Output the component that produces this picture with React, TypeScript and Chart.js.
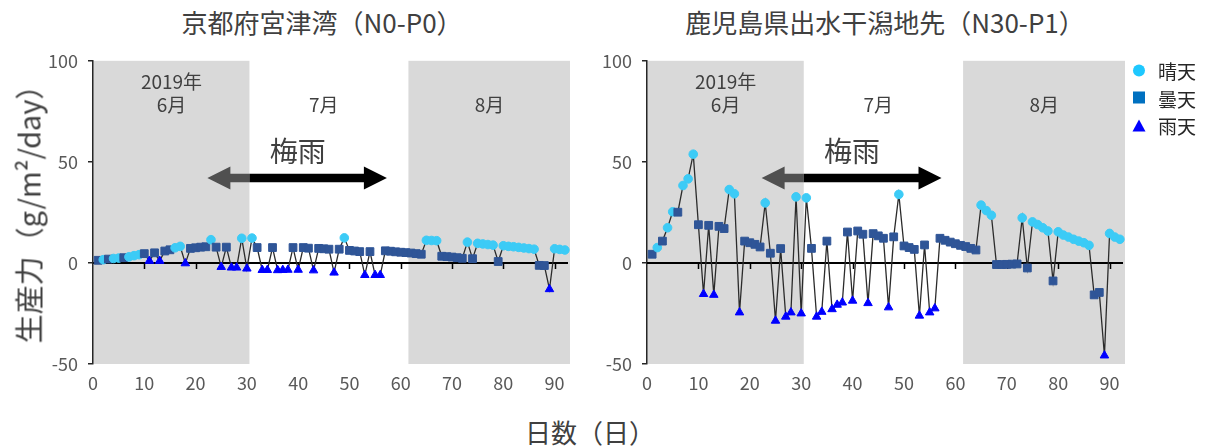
import React, { useEffect, useRef } from 'react';
import { Chart, registerables } from 'chart.js';

Chart.register(...registerables);

const FONT = '"Noto Sans CJK JP", "Noto Sans", sans-serif';
const TEXT = '#404040';
const TICK = '#595959';

// Survey day (1 = June 1, 2019)
const days = [
  1, 2, 3, 4, 5, 6, 7, 8, 9, 10, 11, 12, 13, 14, 15, 16, 17, 18, 19, 20,
  21, 22, 23, 24, 25, 26, 27, 28, 29, 30, 31, 32, 33, 34, 35, 36, 37, 38, 39, 40,
  41, 42, 43, 44, 45, 46, 47, 48, 49, 50, 51, 52, 53, 54, 55, 56, 57, 58, 59, 60,
  61, 62, 63, 64, 65, 66, 67, 68, 69, 70, 71, 72, 73, 74, 75, 76, 77, 78, 79, 80,
  81, 82, 83, 84, 85, 86, 87, 88, 89, 90, 91, 92,
];

// Weather of each day: 晴 = sunny, 曇 = cloudy, 雨 = rainy
const weather = [
  '曇', '晴', '曇', '晴', '晴', '曇', '晴', '晴', '晴', '曇',
  '雨', '曇', '雨', '曇', '曇', '晴', '晴', '雨', '曇', '曇',
  '曇', '曇', '晴', '曇', '雨', '曇', '雨', '雨', '晴', '雨',
  '晴', '曇', '雨', '雨', '曇', '雨', '雨', '雨', '曇', '雨',
  '曇', '曇', '雨', '曇', '曇', '曇', '雨', '曇', '晴', '曇',
  '曇', '曇', '雨', '曇', '雨', '雨', '曇', '曇', '曇', '曇',
  '曇', '曇', '曇', '曇', '晴', '晴', '晴', '曇', '曇', '曇',
  '曇', '曇', '晴', '曇', '晴', '晴', '晴', '晴', '曇', '晴',
  '晴', '晴', '晴', '晴', '晴', '晴', '曇', '曇', '雨', '晴',
  '晴', '晴',
];

// Daily production (g/m²/day), 京都府宮津湾 (N0-P0)
const miyazuProduction = [
  1.3, 1.6, 1.9, 2.2, 2.4, 2.6, 3.0, 3.6, 4.1, 4.6,
  1.0, 5.0, 1.0, 5.9, 6.5, 7.5, 8.2, -0.2, 7.2, 7.5,
  7.8, 8.0, 11.5, 7.8, -2.0, 7.8, -2.3, -2.3, 12.2, -2.8,
  12.3, 7.6, -3.5, -3.5, 7.6, -3.6, -3.5, -3.4, 7.6, -3.4,
  7.6, 7.3, -3.7, 7.2, 7.0, 6.8, -4.8, 6.8, 12.4, 6.2,
  5.9, 5.6, -6.0, 5.6, -6.0, -6.0, 6.0, 5.8, 5.5, 5.3,
  5.1, 4.9, 4.6, 4.3, 11.2, 11.1, 11.0, 3.3, 3.1, 2.9,
  2.6, 2.3, 10.3, 2.1, 9.7, 9.4, 9.1, 8.8, 0.7, 8.5,
  8.2, 8.0, 7.7, 7.4, 7.1, 6.8, -1.2, -1.3, -13.0, 7.0,
  6.7, 6.4,
];

// Daily production (g/m²/day), 鹿児島県出水干潟地先 (N30-P1)
const izumiProduction = [
  4.3, 7.6, 10.8, 17.4, 25.3, 25.1, 38.3, 41.6, 53.8, 18.9,
  -15.4, 18.6, -15.8, 18.1, 17.0, 36.3, 34.2, -24.5, 10.8, 10.0,
  9.2, 7.9, 29.7, 4.8, -28.6, 7.1, -26.6, -24.5, 32.7, -25.0,
  32.2, 7.2, -26.6, -24.2, 10.8, -22.9, -20.7, -19.6, 15.3, -18.7,
  15.8, 14.2, -19.9, 14.5, 13.4, 12.2, -22.0, 12.9, 33.9, 8.4,
  7.6, 6.7, -26.1, 8.9, -24.5, -22.5, 12.2, 11.2, 10.3, 9.5,
  8.7, 8.1, 7.2, 6.4, 28.6, 25.9, 23.6, -0.8, -0.8, -0.7,
  -0.6, -0.5, 22.3, -2.5, 20.3, 19.0, 17.4, 15.8, -8.9, 15.4,
  13.8, 12.8, 11.7, 10.8, 10.0, 8.7, -15.8, -14.6, -45.8, 14.6,
  12.8, 11.7,
];

const xTicks = [0, 10, 20, 30, 40, 50, 60, 70, 80, 90];
const yTicks = [-50, 0, 50, 100];

// June and August bands (in survey days)
const shadedSpans = [
  [0, 30.5],
  [61.5, 93],
];

const monthLabels = [
  { text: '2019年', day: 15.3, value: 89.7 },
  { text: '6月', day: 15.3, value: 78.3 },
  { text: '7月', day: 45.0, value: 78.3 },
  { text: '8月', day: 77.3, value: 78.3 },
];

// 梅雨 (rainy season) arrow
const rainySeason = { from: 22.3, to: 57.3, split: 30.5, value: 42, labelDay: 39.9, labelValue: 55.2 };

const markerStyle: Record<string, { style: string; radius: number; color: string }> = {
  晴: { style: 'circle', radius: 4.3, color: '#3CCBF6' },
  曇: { style: 'rect', radius: 5.5, color: '#2F5597' },
  雨: { style: 'triangle', radius: 4.9, color: '#0000FF' },
};

const legendItems = [
  { label: '晴天', shape: 'circle', color: '#1EC8FF' },
  { label: '曇天', shape: 'square', color: '#0070C0' },
  { label: '雨天', shape: 'triangle', color: '#0000FF' },
];

const decorPlugin = {
  id: 'decor',
  beforeDraw(chart: any) {
    const { ctx, chartArea: a, scales } = chart;
    const x = scales.x;
    ctx.save();
    ctx.fillStyle = '#D9D9D9';
    for (const [s, e] of shadedSpans) {
      const x0 = Math.max(x.getPixelForValue(s), a.left);
      const x1 = Math.min(x.getPixelForValue(e), a.right);
      ctx.fillRect(x0, a.top, x1 - x0, a.bottom - a.top);
    }
    ctx.restore();
  },
  beforeDatasetsDraw(chart: any) {
    const { ctx, chartArea: a, scales } = chart;
    const x = scales.x;
    const y = scales.y;
    ctx.save();

    // month names
    ctx.fillStyle = TEXT;
    ctx.font = `19px ${FONT}`;
    ctx.textAlign = 'center';
    ctx.textBaseline = 'middle';
    for (const m of monthLabels) {
      ctx.fillText(m.text, x.getPixelForValue(m.day), y.getPixelForValue(m.value));
    }

    // rainy season label and double arrow
    ctx.font = `28px ${FONT}`;
    ctx.fillText('梅雨', x.getPixelForValue(rainySeason.labelDay), y.getPixelForValue(rainySeason.labelValue));
    const ya = y.getPixelForValue(rainySeason.value);
    const xl = x.getPixelForValue(rainySeason.from);
    const xr = x.getPixelForValue(rainySeason.to);
    const xm = x.getPixelForValue(rainySeason.split);
    const head = 23;
    const half = 11.5;
    const shaft = 4.2;
    ctx.fillStyle = '#505050';
    ctx.beginPath();
    ctx.moveTo(xl, ya);
    ctx.lineTo(xl + head, ya - half);
    ctx.lineTo(xl + head, ya - shaft);
    ctx.lineTo(xm, ya - shaft);
    ctx.lineTo(xm, ya + shaft);
    ctx.lineTo(xl + head, ya + shaft);
    ctx.lineTo(xl + head, ya + half);
    ctx.closePath();
    ctx.fill();
    ctx.fillStyle = '#000000';
    ctx.beginPath();
    ctx.moveTo(xr, ya);
    ctx.lineTo(xr - head, ya - half);
    ctx.lineTo(xr - head, ya - shaft);
    ctx.lineTo(xm, ya - shaft);
    ctx.lineTo(xm, ya + shaft);
    ctx.lineTo(xr - head, ya + shaft);
    ctx.lineTo(xr - head, ya + half);
    ctx.closePath();
    ctx.fill();

    // zero line with day ticks
    const y0 = Math.round(y.getPixelForValue(0));
    ctx.strokeStyle = '#000000';
    ctx.lineWidth = 2;
    ctx.beginPath();
    ctx.moveTo(a.left, y0);
    ctx.lineTo(a.right - 2, y0);
    ctx.stroke();
    ctx.lineWidth = 1.5;
    ctx.beginPath();
    for (const t of xTicks) {
      if (t === 0) continue;
      const px = Math.round(x.getPixelForValue(t)) + 0.5;
      ctx.moveTo(px, y0);
      ctx.lineTo(px, y0 + 6);
    }
    ctx.stroke();
    ctx.restore();
  },
};

function ProductionChart({ values, left, padRight }: { values: number[]; left: number; padRight: number }) {
  const ref = useRef<HTMLCanvasElement>(null);

  useEffect(() => {
    const style = (i: number) => markerStyle[weather[i]];
    const chart = new Chart(ref.current as HTMLCanvasElement, {
      type: 'line',
      data: {
        datasets: [
          {
            data: days.map((d, i) => ({ x: d, y: values[i] })),
            borderColor: '#2B2B2B',
            borderWidth: 1.3,
            tension: 0,
            pointStyle: (c: any) => style(c.dataIndex).style as any,
            pointRadius: (c: any) => style(c.dataIndex).radius,
            pointBackgroundColor: (c: any) => style(c.dataIndex).color,
            pointBorderColor: (c: any) => style(c.dataIndex).color,
            pointBorderWidth: 1,
            clip: false as any,
          },
        ],
      },
      options: {
        animation: false,
        responsive: false,
        devicePixelRatio: 1,
        events: [],
        layout: { padding: { top: 20, right: padRight, bottom: 0, left: 0 } },
        plugins: { legend: { display: false }, tooltip: { enabled: false } },
        scales: {
          x: {
            type: 'linear',
            min: 0,
            max: 93,
            afterBuildTicks: (axis: any) => {
              axis.ticks = xTicks.map((v) => ({ value: v }));
            },
            afterFit: (s: any) => {
              s.height = 36;
            },
            grid: { display: false, drawTicks: false },
            border: { display: false },
            ticks: { color: TICK, font: { family: FONT, size: 18 }, padding: 8, maxRotation: 0 },
          },
          y: {
            min: -50,
            max: 100,
            afterBuildTicks: (axis: any) => {
              axis.ticks = yTicks.map((v) => ({ value: v }));
            },
            afterFit: (s: any) => {
              s.width = 53;
            },
            grid: { display: true, drawOnChartArea: false, drawTicks: true, tickLength: 5, color: '#262626', lineWidth: 1.5 },
            border: { display: true, color: '#262626', width: 1.5 },
            ticks: { color: TICK, font: { family: FONT, size: 18 }, padding: 10 },
          },
        },
      } as any,
      plugins: [decorPlugin],
    });
    return () => chart.destroy();
  }, [values]);

  return (
    <canvas
      ref={ref}
      width={545}
      height={360}
      style={{ position: 'absolute', left, top: 40, width: 545, height: 360 }}
    />
  );
}

function LegendMarker({ shape, color }: { shape: string; color: string }) {
  return (
    <svg width={14} height={14} style={{ display: 'block' }}>
      {shape === 'circle' && <circle cx={7} cy={7} r={6} fill={color} />}
      {shape === 'square' && <rect x={1} y={1} width={12} height={12} fill={color} />}
      {shape === 'triangle' && <polygon points="7,1 13.5,13 0.5,13" fill={color} />}
    </svg>
  );
}

const titleStyle: React.CSSProperties = {
  position: 'absolute',
  top: 22,
  transform: 'translate(-50%, -50%)',
  whiteSpace: 'nowrap',
  fontFamily: FONT,
  fontSize: 26,
  color: TEXT,
  lineHeight: 1,
};

export default function App() {
  return (
    <div style={{ position: 'absolute', left: 0, top: 0, width: 1206, height: 447, background: '#FFFFFF', overflow: 'hidden' }}>
      <div style={{ ...titleStyle, left: 322 }}>京都府宮津湾（N0-P0）</div>
      <div style={{ ...titleStyle, left: 885 }}>鹿児島県出水干潟地先（N30-P1）</div>

      <ProductionChart values={miyazuProduction} left={40} padRight={15} />
      <ProductionChart values={izumiProduction} left={594} padRight={14} />

      <div
        style={{
          position: 'absolute',
          left: 28,
          top: 207,
          transform: 'translate(-50%, -50%) rotate(-90deg)',
          whiteSpace: 'nowrap',
          fontFamily: FONT,
          fontSize: 29,
          color: TEXT,
          lineHeight: 1,
        }}
      >
        生産力（g/m²/day）
      </div>
      <div
        style={{
          position: 'absolute',
          left: 590,
          top: 432,
          transform: 'translate(-50%, -50%)',
          whiteSpace: 'nowrap',
          fontFamily: FONT,
          fontSize: 26,
          color: TEXT,
          lineHeight: 1,
        }}
      >
        日数（日）
      </div>

      {legendItems.map((item, i) => (
        <div
          key={item.label}
          style={{
            position: 'absolute',
            left: 1132,
            top: 70 + i * 27.5,
            transform: 'translateY(-50%)',
            display: 'flex',
            alignItems: 'center',
            fontFamily: FONT,
            fontSize: 19,
            color: '#262626',
            lineHeight: 1,
            whiteSpace: 'nowrap',
          }}
        >
          <LegendMarker shape={item.shape} color={item.color} />
          <span style={{ marginLeft: 12 }}>{item.label}</span>
        </div>
      ))}
    </div>
  );
}
